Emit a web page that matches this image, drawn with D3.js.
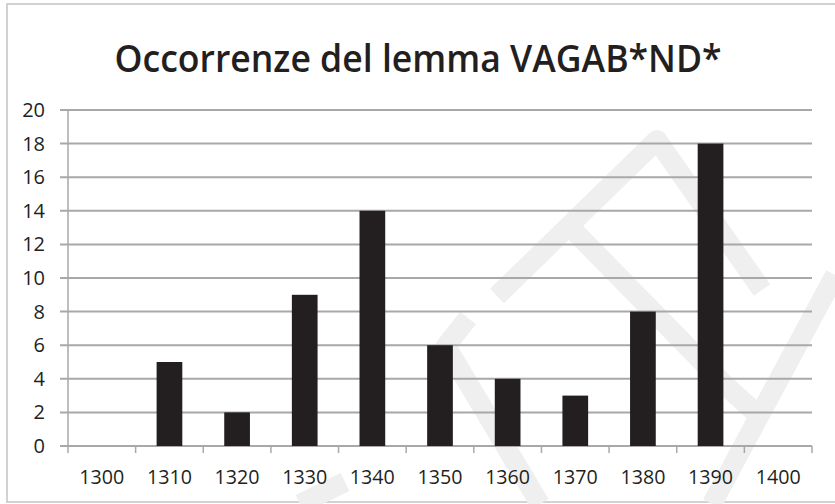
<!DOCTYPE html>
<html>
<head>
<meta charset="utf-8">
<script src="https://cdn.jsdelivr.net/npm/d3@7"></script>
<style>
  body { margin: 0; background: #fff; }
  text { font-family: "Open Sans", sans-serif; fill: #231f20; }
</style>
</head>
<body>
<svg id="chart" width="835" height="504"></svg>
<script>
// data
const decades = ["1300", "1310", "1320", "1330", "1340", "1350", "1360", "1370", "1380", "1390", "1400"];
const occurrences = [0, 5, 2, 9, 14, 6, 4, 3, 8, 18, 0];
const yTicks = [0, 2, 4, 6, 8, 10, 12, 14, 16, 18, 20];
const chartTitle = "Occorrenze del lemma VAGAB*ND*";

const svg = d3.select("#chart");

// frame around the whole figure
svg.append("rect")
  .attr("x", 7).attr("y", 4)
  .attr("width", 840).attr("height", 498)
  .attr("fill", "#fff")
  .attr("stroke", "#c4c4c4")
  .attr("stroke-width", 1.5);

// faint watermark behind the plot
const watermark = [
  [[497, 296], [657, 140], [762, 290]],
  [[575, 232], [725, 385], [757, 414]],
  [[835, 275], [712, 504]],
  [[468, 318], [446, 346], [540, 504]],
  [[300, 504], [345, 482]]
];
svg.append("g")
  .selectAll("path")
  .data(watermark)
  .join("path")
    .attr("d", d3.line())
    .attr("fill", "none")
    .attr("stroke", "#efefef")
    .attr("stroke-width", 20)
    .attr("stroke-linejoin", "round");

const x = d3.scaleBand()
  .domain(decades)
  .range([68, 812])
  .padding(0);

const y = d3.scaleLinear()
  .domain([0, 20])
  .range([446, 110]);

// horizontal grid lines
svg.append("g")
  .selectAll("line")
  .data(yTicks)
  .join("line")
    .attr("x1", 60).attr("x2", 812)
    .attr("y1", d => y(d)).attr("y2", d => y(d))
    .attr("stroke", "#a8a8a8")
    .attr("stroke-width", 2);

// y axis line
svg.append("line")
  .attr("x1", 68).attr("x2", 68)
  .attr("y1", y(20)).attr("y2", y(0))
  .attr("stroke", "#a8a8a8")
  .attr("stroke-width", 1.5);

// y labels
svg.append("g")
  .selectAll("text")
  .data(yTicks)
  .join("text")
    .attr("x", 45)
    .attr("y", d => y(d) + 7)
    .attr("text-anchor", "end")
    .attr("font-size", 20)
    .text(d => d);

// x ticks (at band edges)
const edges = decades.map(d => x(d)).concat([x.range()[1]]);
svg.append("g")
  .selectAll("line")
  .data(edges)
  .join("line")
    .attr("x1", d => d).attr("x2", d => d)
    .attr("y1", y(0)).attr("y2", y(0) + 7)
    .attr("stroke", "#a8a8a8")
    .attr("stroke-width", 1.5);

// x labels
svg.append("g")
  .selectAll("text")
  .data(decades)
  .join("text")
    .attr("x", d => x(d) + x.bandwidth() / 2)
    .attr("y", 484)
    .attr("text-anchor", "middle")
    .attr("font-size", 20)
    .attr("textLength", 45)
    .attr("lengthAdjust", "spacingAndGlyphs")
    .text(d => d);

// bars
const barW = x.bandwidth() * 0.38;
svg.append("g")
  .selectAll("rect")
  .data(decades.map((d, i) => ({ decade: d, value: occurrences[i] })))
  .join("rect")
    .attr("x", d => x(d.decade) + (x.bandwidth() - barW) / 2)
    .attr("y", d => y(d.value))
    .attr("width", barW)
    .attr("height", d => y(0) - y(d.value))
    .attr("fill", "#231f20");

// title
svg.append("text")
  .attr("x", 418)
  .attr("y", 72)
  .attr("text-anchor", "middle")
  .attr("font-size", 38)
  .attr("font-weight", 600)
  .attr("textLength", 607)
  .attr("lengthAdjust", "spacingAndGlyphs")
  .text(chartTitle);
</script>
</body>
</html>
